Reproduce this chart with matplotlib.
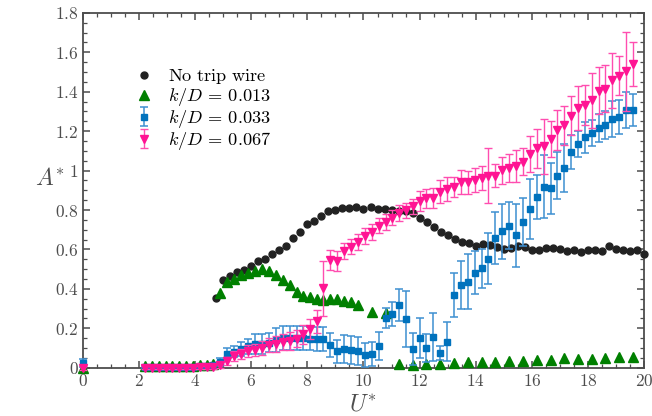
import numpy as np
import matplotlib
matplotlib.use("Agg")
import matplotlib.pyplot as plt
from matplotlib.ticker import MultipleLocator, FuncFormatter

plt.rcParams['mathtext.fontset'] = 'cm'
plt.rcParams['font.family'] = 'serif'
plt.rcParams['font.serif'] = ['DejaVu Serif']

# --- data ---
u_none = [4.75, 5.0, 5.25, 5.5, 5.75, 6.0, 6.25, 6.5, 6.75, 7.0, 7.25, 7.5, 7.75, 8.0,
          8.25, 8.5, 8.75, 9.0, 9.25, 9.5, 9.75, 10.0, 10.25, 10.5, 10.75, 11.0, 11.25,
          11.5, 11.75, 12.0, 12.25, 12.5, 12.75, 13.0, 13.25, 13.5, 13.75, 14.0, 14.25,
          14.5, 14.75, 15.0, 15.25, 15.5, 15.75, 16.0, 16.25, 16.5, 16.75, 17.0, 17.25,
          17.5, 17.75, 18.0, 18.25, 18.5, 18.75, 19.0, 19.25, 19.5, 19.75, 20.0]
a_none = [0.356, 0.443, 0.463, 0.487, 0.497, 0.516, 0.539, 0.554, 0.575, 0.598, 0.619,
          0.656, 0.688, 0.727, 0.744, 0.771, 0.793, 0.798, 0.808, 0.810, 0.813, 0.806,
          0.815, 0.803, 0.805, 0.801, 0.796, 0.793, 0.783, 0.760, 0.738, 0.713, 0.687,
          0.675, 0.654, 0.636, 0.633, 0.617, 0.627, 0.624, 0.614, 0.600, 0.607, 0.619,
          0.612, 0.598, 0.598, 0.605, 0.605, 0.601, 0.590, 0.598, 0.585, 0.595, 0.595,
          0.593, 0.619, 0.604, 0.595, 0.593, 0.595, 0.575]

u_013 = [0.0, 2.21, 2.45, 2.70, 2.95, 3.18, 3.43, 3.67, 3.92, 4.17, 4.41, 4.65, 4.89, 5.15,
         5.39, 5.64, 5.89, 6.14, 6.39, 6.63, 6.88, 7.12, 7.37, 7.62, 7.86, 8.09, 8.33,
         8.57, 8.82, 9.06, 9.31, 9.55, 9.81, 10.30, 10.79, 11.27, 11.75, 12.24, 12.74,
         13.23, 13.72, 14.21, 14.70, 15.19, 15.69, 16.18, 16.67, 17.16, 17.64, 18.14,
         18.62, 19.12, 19.61]
a_013 = [0.0, 0.008, 0.008, 0.008, 0.008, 0.008, 0.010, 0.010, 0.010, 0.012, 0.015, 0.020,
         0.377, 0.433, 0.451, 0.472, 0.483, 0.492, 0.500, 0.490, 0.470, 0.445, 0.419,
         0.382, 0.365, 0.357, 0.348, 0.346, 0.350, 0.348, 0.340, 0.331, 0.318, 0.283,
         0.278, 0.017, 0.015, 0.019, 0.019, 0.025, 0.027, 0.027, 0.029, 0.034, 0.035,
         0.039, 0.039, 0.047, 0.044, 0.046, 0.051, 0.052, 0.052]

u_grid = [0.0, 2.21, 2.45, 2.70, 2.95, 3.18, 3.43, 3.67, 3.92, 4.17, 4.41, 4.65, 4.89, 5.15,
          5.39, 5.64, 5.89, 6.14, 6.39, 6.63, 6.88, 7.12, 7.37, 7.62, 7.86, 8.09, 8.33,
          8.57, 8.82, 9.06, 9.31, 9.55, 9.81, 10.06, 10.30, 10.54, 10.79, 11.03, 11.27,
          11.51, 11.75, 12.00, 12.24, 12.48, 12.74, 12.98, 13.23, 13.48, 13.72, 13.96,
          14.21, 14.45, 14.70, 14.95, 15.19, 15.44, 15.69, 15.93, 16.18, 16.42, 16.67,
          16.91, 17.16, 17.40, 17.64, 17.89, 18.14, 18.39, 18.62, 18.87, 19.12, 19.36, 19.61]

a_033 = [0.024, 0.004, 0.004, 0.004, 0.005, 0.005, 0.005, 0.006, 0.006, 0.008, 0.010, 0.015,
         0.028, 0.068, 0.082, 0.095, 0.108, 0.122, 0.122, 0.128, 0.141, 0.150, 0.150,
         0.150, 0.152, 0.148, 0.147, 0.147, 0.117, 0.083, 0.096, 0.091, 0.086, 0.065,
         0.070, 0.110, 0.252, 0.274, 0.319, 0.247, 0.095, 0.151, 0.101, 0.156, 0.074,
         0.132, 0.369, 0.420, 0.436, 0.483, 0.504, 0.553, 0.658, 0.693, 0.720, 0.673,
         0.739, 0.805, 0.866, 0.919, 0.910, 0.974, 1.014, 1.094, 1.134, 1.168, 1.190,
         1.215, 1.231, 1.261, 1.273, 1.307, 1.307]
e_033 = [0.02, 0.005, 0.005, 0.005, 0.005, 0.005, 0.005, 0.005, 0.005, 0.005, 0.005, 0.01,
         0.02, 0.03, 0.03, 0.035, 0.04, 0.05, 0.05, 0.05, 0.06, 0.06, 0.06, 0.06, 0.06,
         0.06, 0.06, 0.06, 0.06, 0.06, 0.07, 0.07, 0.07, 0.06, 0.06, 0.07, 0.05, 0.06,
         0.08, 0.14, 0.08, 0.10, 0.07, 0.12, 0.035, 0.10, 0.11, 0.12, 0.14, 0.11, 0.10,
         0.13, 0.13, 0.14, 0.12, 0.16, 0.12, 0.15, 0.11, 0.16, 0.13, 0.12, 0.12, 0.085,
         0.065, 0.08, 0.065, 0.07, 0.07, 0.09, 0.085, 0.09, 0.08]

a_067 = [0.0, 0.0, 0.0, 0.0, 0.0, 0.0, 0.0, 0.0, 0.0, 0.002, 0.003, 0.005, 0.012, 0.036,
         0.059, 0.071, 0.085, 0.089, 0.100, 0.114, 0.122, 0.129, 0.137, 0.148, 0.169,
         0.197, 0.235, 0.404, 0.546, 0.541, 0.592, 0.615, 0.637, 0.669, 0.687, 0.721,
         0.740, 0.762, 0.784, 0.798, 0.818, 0.845, 0.859, 0.860, 0.894, 0.906, 0.917,
         0.943, 0.940, 0.952, 0.962, 0.975, 0.975, 1.001, 1.012, 1.023, 1.046, 1.085,
         1.113, 1.124, 1.161, 1.207, 1.229, 1.279, 1.318, 1.332, 1.356, 1.406, 1.416,
         1.459, 1.481, 1.503, 1.540]
e_067 = [0.01, 0.008, 0.008, 0.008, 0.008, 0.008, 0.008, 0.008, 0.008, 0.008, 0.008, 0.01,
         0.015, 0.02, 0.025, 0.025, 0.03, 0.03, 0.035, 0.035, 0.04, 0.04, 0.045, 0.045,
         0.05, 0.05, 0.06, 0.14, 0.05, 0.05, 0.04, 0.04, 0.04, 0.04, 0.04, 0.04, 0.04,
         0.04, 0.04, 0.04, 0.04, 0.05, 0.05, 0.05, 0.06, 0.06, 0.05, 0.06, 0.06, 0.06,
         0.06, 0.14, 0.06, 0.07, 0.07, 0.08, 0.07, 0.09, 0.10, 0.14, 0.09, 0.10, 0.10,
         0.10, 0.11, 0.10, 0.14, 0.12, 0.12, 0.14, 0.10, 0.20, 0.11]

fig = plt.figure(figsize=(6.52, 4.16), dpi=100)
ax = fig.add_axes([0.127, 0.116, 0.861, 0.853])

ax.plot(u_none, a_none, 'o', color='#222222', ms=5, ls='none',
        label=r'$\mathrm{No\ trip\ wire}$', clip_on=False, zorder=3)
ax.plot(u_013, a_013, '^', color='#008000', ms=6.5, ls='none',
        label=r'$k/D\,=\,0.013$', clip_on=False, zorder=4)
ax.errorbar(u_grid, a_033, yerr=e_033, fmt='s', color='#0072BD', ecolor='#3d8fd1', ms=4.2,
            elinewidth=1.1, capsize=3, capthick=1.1, label=r'$k/D\,=\,0.033$',
            clip_on=False, zorder=5)
ax.errorbar(u_grid, a_067, yerr=e_067, fmt='v', color='#FF1493', ecolor='#FF4DB0', ms=5.5,
            elinewidth=1.0, capsize=3, capthick=1.0, label=r'$k/D\,=\,0.067$',
            clip_on=False, zorder=6)

ax.set_xlim(0, 20)
ax.set_ylim(0, 1.8)
ax.xaxis.set_major_locator(MultipleLocator(2))
ax.xaxis.set_minor_locator(MultipleLocator(0.5))
ax.yaxis.set_major_locator(MultipleLocator(0.2))
ax.yaxis.set_minor_locator(MultipleLocator(0.05))
fmt = FuncFormatter(lambda v, p: r'$\mathrm{%g}$' % round(v, 2))
ax.xaxis.set_major_formatter(fmt)
ax.yaxis.set_major_formatter(fmt)

grey = '#4d4d4d'
for s in ax.spines.values():
    s.set_color(grey)
    s.set_linewidth(1.3)
ax.tick_params(which='both', direction='in', top=True, right=True, colors=grey, labelsize=12.5)
ax.tick_params(which='major', length=5, width=1.1)
ax.tick_params(which='minor', length=3, width=0.9)
ax.tick_params(axis='y', pad=3)

ax.set_xlabel(r'$U^{*}$', fontsize=17, color=grey, labelpad=2)
ax.set_ylabel(r'$A^{*}$', fontsize=17, color=grey, rotation=0)
ax.yaxis.set_label_coords(-0.058, 0.5)

leg = ax.legend(loc='upper left', bbox_to_anchor=(0.063, 0.894), frameon=False, fontsize=13.2,
                handletextpad=0.78, labelspacing=0.0, handlelength=1.05, borderpad=0.4)

fig.savefig('out.png', dpi=100)
